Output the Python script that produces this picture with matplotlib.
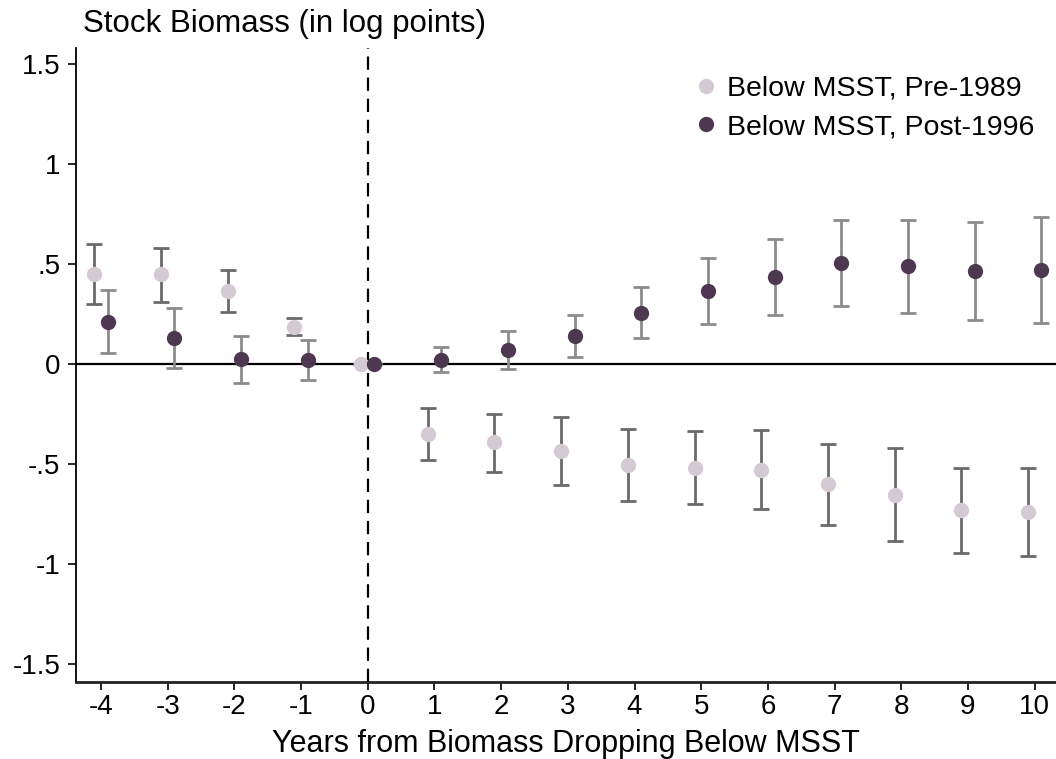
import numpy as np
import matplotlib.pyplot as plt

plt.rcParams['font.family'] = ['Liberation Sans', 'DejaVu Sans']

# event time (years relative to dropping below MSST)
years = [-4, -3, -2, -1, 0, 1, 2, 3, 4, 5, 6, 7, 8, 9, 10]

# below MSST, pre-1989: estimate and 95% CI
pre_est = [0.45, 0.45, 0.365, 0.185, 0.0, -0.35, -0.39, -0.435, -0.505, -0.52, -0.53, -0.60, -0.655, -0.73, -0.74]
pre_lo = [0.30, 0.31, 0.26, 0.145, 0.0, -0.48, -0.54, -0.605, -0.685, -0.70, -0.725, -0.805, -0.885, -0.945, -0.96]
pre_hi = [0.60, 0.58, 0.47, 0.23, 0.0, -0.22, -0.25, -0.265, -0.325, -0.335, -0.33, -0.40, -0.42, -0.52, -0.52]

# below MSST, post-1996
post_est = [0.21, 0.13, 0.025, 0.02, 0.0, 0.02, 0.07, 0.14, 0.255, 0.365, 0.435, 0.505, 0.49, 0.465, 0.47]
post_lo = [0.055, -0.02, -0.095, -0.08, 0.0, -0.04, -0.025, 0.035, 0.13, 0.20, 0.245, 0.29, 0.255, 0.22, 0.205]
post_hi = [0.37, 0.28, 0.14, 0.12, 0.0, 0.085, 0.165, 0.245, 0.385, 0.53, 0.625, 0.72, 0.72, 0.71, 0.735]

yticks = [-1.5, -1, -0.5, 0, 0.5, 1, 1.5]
ytick_labels = ['-1.5', '-1', '-.5', '0', '.5', '1', '1.5']

fig = plt.figure(figsize=(10.56, 7.59), dpi=100)
ax = fig.add_axes([75.7 / 1056, 1 - 681.7 / 759, 1 - 75.7 / 1056, (681.7 - 48) / 759])

x = np.array(years, dtype=float)
shift = 0.1

ax.axhline(0, color='black', lw=1.6, zorder=1)
ax.axvline(0, color='black', lw=1.6, ls=(0, (6, 3.5)), zorder=1)

pre_est = np.array(pre_est)
post_est = np.array(post_est)
pre_err = [pre_est - np.array(pre_lo), np.array(pre_hi) - pre_est]
post_err = [post_est - np.array(post_lo), np.array(post_hi) - post_est]

ax.errorbar(x - shift, pre_est, yerr=pre_err, fmt='none', ecolor='#6a6a6a',
            elinewidth=2.0, capsize=5.5, capthick=2.0, zorder=2)
ax.errorbar(x + shift, post_est, yerr=post_err, fmt='none', ecolor='#8c8c8c',
            elinewidth=2.0, capsize=5.5, capthick=2.0, zorder=2)
ax.plot(x - shift, pre_est, 'o', color='#d4cad3', ms=11, mec='none', zorder=3,
        label='Below MSST, Pre-1989')
ax.plot(x + shift, post_est, 'o', color='#4e3751', ms=11, mec='none', zorder=3,
        label='Below MSST, Post-1996')

ax.set_xlim(-4.38, 10.32)
ax.set_ylim(-1.59, 1.58)
ax.set_xticks(years)
ax.set_xticklabels([str(v) for v in years])
ax.set_yticks(yticks)
ax.set_yticklabels(ytick_labels)
ax.tick_params(axis='both', labelsize=20, length=6, width=1.2, color='black')
ax.tick_params(axis='x', pad=3)
ax.tick_params(axis='y', pad=5)

for side in ['top', 'right']:
    ax.spines[side].set_visible(False)
ax.spines['left'].set_linewidth(1.3)
ax.spines['bottom'].set_linewidth(2.0)
ax.spines['bottom'].set_color('#222222')

ax.set_xlabel('Years from Biomass Dropping Below MSST', fontsize=22, labelpad=6)
fig.text(83 / 1056, 1 - 24 / 759, 'Stock Biomass (in log points)', fontsize=22.5,
         ha='left', va='center')

ax.legend(loc='upper right', bbox_to_anchor=(1043 / 1056, 1 - 67 / 759),
          bbox_transform=fig.transFigure, frameon=False,
          fontsize=20.5, handletextpad=0.15, handlelength=1.2, labelspacing=0.45,
          borderaxespad=0, borderpad=0.3)

fig.savefig('out.png', dpi=100)
